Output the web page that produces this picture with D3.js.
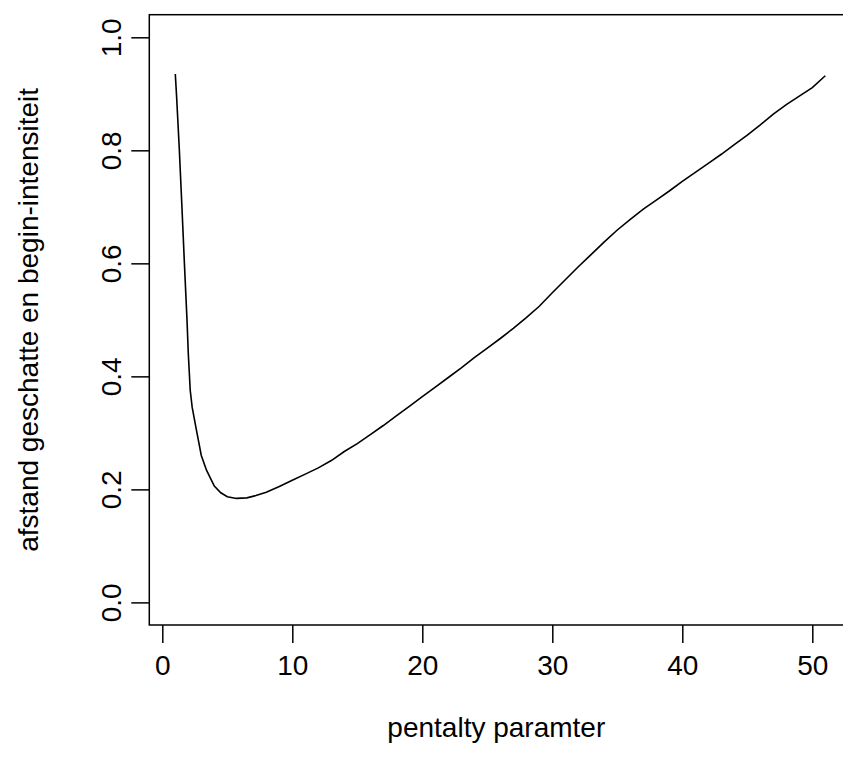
<!DOCTYPE html>
<html>
<head>
<meta charset="utf-8">
<script src="https://cdn.jsdelivr.net/npm/d3@7"></script>
<style>
  html, body { margin: 0; padding: 0; background: #fff; overflow: hidden; }
  svg { display: block; }
  text { font-family: "Liberation Sans", Arial, sans-serif; fill: #000; }
</style>
</head>
<body>
<svg id="chart" width="843" height="769"></svg>
<script>
// Penalty parameter values and the matching distance between estimated and initial intensity
const penalty = [1, 1.1, 1.3, 1.5, 1.7, 1.9, 2.0, 2.15, 2.3, 2.6, 3.0, 3.4, 4.0, 4.5, 5.0, 5.7, 6.5, 7.2, 8, 9,
  10, 11, 12, 13, 14, 15, 16, 17, 18, 19, 20, 21, 22, 23, 24, 25, 26, 27, 28, 29, 30,
  31, 32, 33, 34, 35, 36, 37, 38, 39, 40, 41, 42, 43, 44, 45, 46, 47, 48, 49, 50, 51];
const distance = [0.935, 0.895, 0.806, 0.705, 0.600, 0.500, 0.440, 0.375, 0.345, 0.308, 0.260, 0.234, 0.206, 0.194, 0.187, 0.184, 0.185, 0.189, 0.195, 0.205,
  0.216, 0.227, 0.238, 0.251, 0.267, 0.281, 0.297, 0.313, 0.330, 0.347, 0.364, 0.381, 0.398, 0.415, 0.433, 0.450, 0.467, 0.485, 0.504, 0.524, 0.548,
  0.571, 0.594, 0.616, 0.638, 0.659, 0.678, 0.696, 0.712, 0.728, 0.745, 0.761, 0.777, 0.793, 0.810, 0.827, 0.845, 0.864, 0.881, 0.896, 0.911, 0.932];

const xTicks = [0, 10, 20, 30, 40, 50];
const yTicks = [0.0, 0.2, 0.4, 0.6, 0.8, 1.0];
const xTitle = "pentalty paramter";
const yTitle = "afstand geschatte en begin-intensiteit";

const svg = d3.select("#chart");
const box = { left: 149.3, right: 851.3, top: 14.7, bottom: 625 };
const fontSize = 28;

// R-style ranges: data range padded by 4% on each side
const x = d3.scaleLinear().domain([-1, 53]).range([box.left, box.right]);
const y = d3.scaleLinear().domain([-0.04, 1.04]).range([box.bottom, box.top]);

// Plot frame
svg.append("rect")
  .attr("x", box.left).attr("y", box.top)
  .attr("width", box.right - box.left).attr("height", box.bottom - box.top)
  .attr("fill", "none").attr("stroke", "#000").attr("stroke-width", 1.5);

// x axis: ticks below the frame
const xAxis = d3.axisBottom(x).tickValues(xTicks).tickSize(18).tickPadding(12)
  .tickFormat(d3.format("d"));
const gx = svg.append("g").attr("transform", `translate(0,${box.bottom})`).call(xAxis);
gx.select(".domain").remove();
gx.selectAll(".tick line").attr("stroke", "#000").attr("stroke-width", 1.5);
gx.selectAll(".tick text").attr("font-size", fontSize).attr("font-family", "Liberation Sans, Arial, sans-serif");

// y axis: ticks left of the frame with rotated labels
const yAxis = d3.axisLeft(y).tickValues(yTicks).tickSize(18).tickPadding(0)
  .tickFormat(d3.format(".1f"));
const gy = svg.append("g").attr("transform", `translate(${box.left},0)`).call(yAxis);
gy.select(".domain").remove();
gy.selectAll(".tick line").attr("stroke", "#000").attr("stroke-width", 1.5);
gy.selectAll(".tick text")
  .attr("font-size", fontSize).attr("font-family", "Liberation Sans, Arial, sans-serif")
  .attr("x", null).attr("dy", null)
  .attr("text-anchor", "middle")
  .attr("transform", "translate(-38,0) rotate(-90)")
  .attr("dy", "0.35em");

// Axis titles
svg.append("text")
  .attr("x", (box.left + box.right) / 2 - 4).attr("y", 737)
  .attr("text-anchor", "middle").attr("font-size", fontSize)
  .text(xTitle);
svg.append("text")
  .attr("transform", `translate(38,${(box.top + box.bottom) / 2}) rotate(-90)`)
  .attr("text-anchor", "middle").attr("font-size", fontSize)
  .text(yTitle);

// Curve
const line = d3.line().x(d => x(d[0])).y(d => y(d[1]));
svg.append("path")
  .datum(d3.zip(penalty, distance))
  .attr("d", line)
  .attr("fill", "none").attr("stroke", "#000").attr("stroke-width", 1.6);
</script>
</body>
</html>
